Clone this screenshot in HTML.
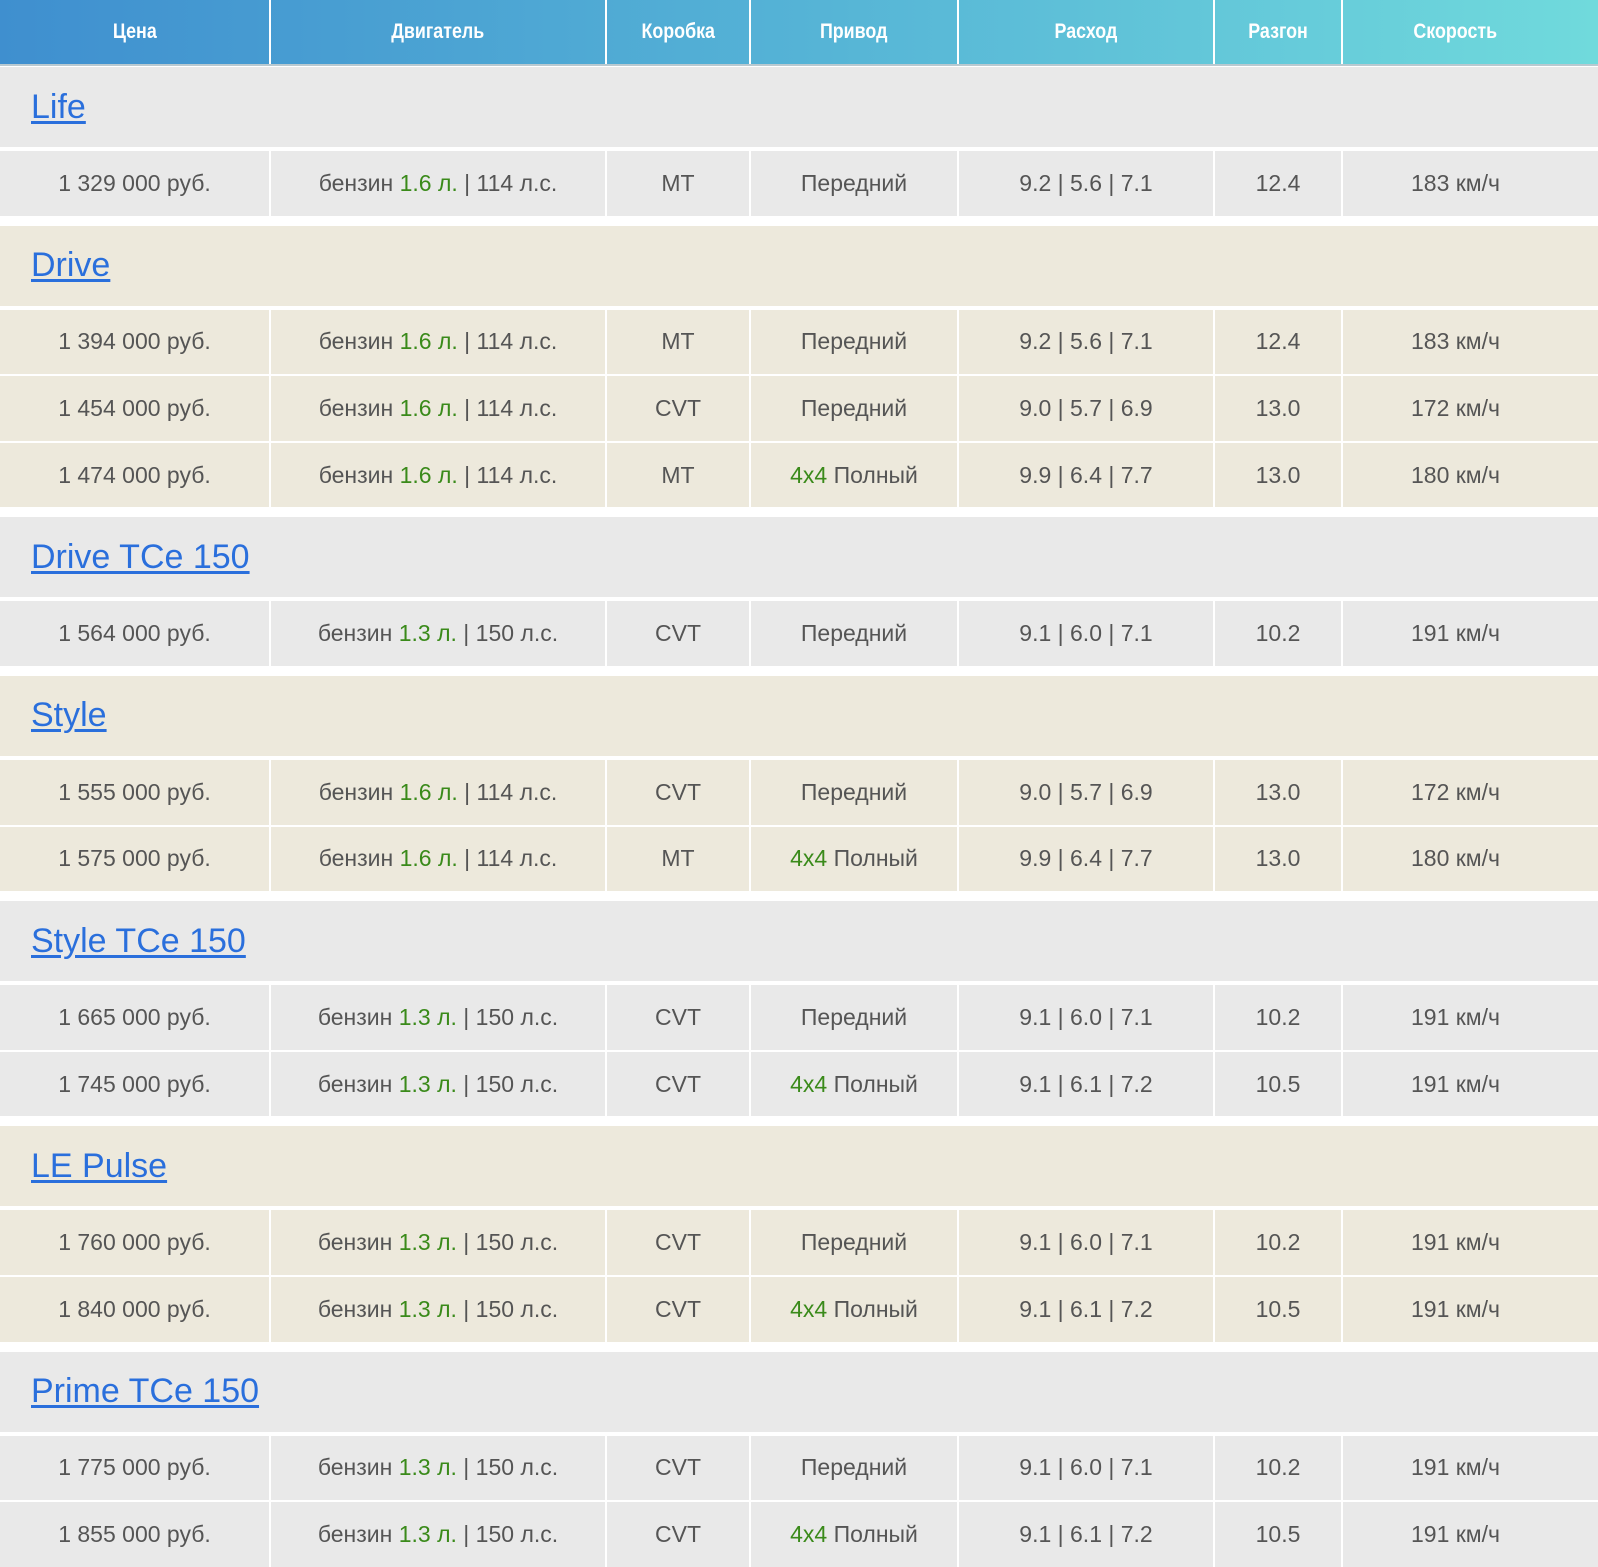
<!DOCTYPE html>
<html><head><meta charset="utf-8"><style>
*{margin:0;padding:0;box-sizing:border-box}
body{width:1598px;height:1566px;overflow:hidden;background:#fff;font-family:"Liberation Sans",sans-serif}
.hdr{display:flex;height:66px;background:linear-gradient(90deg,#3f8fcf,#55b3d6 50%,#70dadc);border-bottom:2px solid #b9c9d0}
.hdr div{color:#fff;font-family:"Liberation Sans Narrow","Liberation Sans",sans-serif;font-weight:bold;font-size:21px;display:flex;align-items:center;justify-content:center;border-right:2px solid #fff}
.hdr div span{display:inline-block;transform:scaleX(0.85)}
.hdr div:last-child{border-right:none}
.c1{width:271px}.c2{width:336px}.c3{width:144px}.c4{width:208px}.c5{width:256px}.c6{width:128px}.c7{width:255px;padding-right:30px}
.grp{margin-bottom:10px}
.gh{height:80px;display:flex;align-items:center;padding-left:31px;margin-bottom:4px}
.gh a{color:#2a6fdc;font-size:34px;text-decoration:underline;text-underline-offset:3px}
.row{display:flex;height:64.6px;margin-bottom:2px}
.row div{display:flex;align-items:center;justify-content:center;font-size:23px;color:#555;border-right:2px solid #fff;white-space:pre}
.row div:last-child{border-right:none}
.g{color:#3a8a1a}
.A .gh,.A .row{background:#e9e9e9}
.B .gh,.B .row{background:#ede9dc}
</style></head><body>
<div class="hdr"><div class="c1"><span>Цена</span></div><div class="c2"><span>Двигатель</span></div><div class="c3"><span>Коробка</span></div><div class="c4"><span>Привод</span></div><div class="c5"><span>Расход</span></div><div class="c6"><span>Разгон</span></div><div class="c7"><span>Скорость</span></div></div>
<div style="height:1px"></div>

<div class="grp A"><div class="gh"><a>Life</a></div>
<div class="row"><div class="c1">1 329 000 руб.</div><div class="c2">бензин <span class="g">1.6 л.</span> | 114 л.с.</div><div class="c3">MT</div><div class="c4">Передний</div><div class="c5">9.2 | 5.6 | 7.1</div><div class="c6">12.4</div><div class="c7">183 км/ч</div></div>
</div>

<div class="grp B"><div class="gh"><a>Drive</a></div>
<div class="row"><div class="c1">1 394 000 руб.</div><div class="c2">бензин <span class="g">1.6 л.</span> | 114 л.с.</div><div class="c3">MT</div><div class="c4">Передний</div><div class="c5">9.2 | 5.6 | 7.1</div><div class="c6">12.4</div><div class="c7">183 км/ч</div></div>
<div class="row"><div class="c1">1 454 000 руб.</div><div class="c2">бензин <span class="g">1.6 л.</span> | 114 л.с.</div><div class="c3">CVT</div><div class="c4">Передний</div><div class="c5">9.0 | 5.7 | 6.9</div><div class="c6">13.0</div><div class="c7">172 км/ч</div></div>
<div class="row"><div class="c1">1 474 000 руб.</div><div class="c2">бензин <span class="g">1.6 л.</span> | 114 л.с.</div><div class="c3">MT</div><div class="c4"><span class="g">4x4</span> Полный</div><div class="c5">9.9 | 6.4 | 7.7</div><div class="c6">13.0</div><div class="c7">180 км/ч</div></div>
</div>

<div class="grp A"><div class="gh"><a>Drive TCe 150</a></div>
<div class="row"><div class="c1">1 564 000 руб.</div><div class="c2">бензин <span class="g">1.3 л.</span> | 150 л.с.</div><div class="c3">CVT</div><div class="c4">Передний</div><div class="c5">9.1 | 6.0 | 7.1</div><div class="c6">10.2</div><div class="c7">191 км/ч</div></div>
</div>

<div class="grp B"><div class="gh"><a>Style</a></div>
<div class="row"><div class="c1">1 555 000 руб.</div><div class="c2">бензин <span class="g">1.6 л.</span> | 114 л.с.</div><div class="c3">CVT</div><div class="c4">Передний</div><div class="c5">9.0 | 5.7 | 6.9</div><div class="c6">13.0</div><div class="c7">172 км/ч</div></div>
<div class="row"><div class="c1">1 575 000 руб.</div><div class="c2">бензин <span class="g">1.6 л.</span> | 114 л.с.</div><div class="c3">MT</div><div class="c4"><span class="g">4x4</span> Полный</div><div class="c5">9.9 | 6.4 | 7.7</div><div class="c6">13.0</div><div class="c7">180 км/ч</div></div>
</div>

<div class="grp A"><div class="gh"><a>Style TCe 150</a></div>
<div class="row"><div class="c1">1 665 000 руб.</div><div class="c2">бензин <span class="g">1.3 л.</span> | 150 л.с.</div><div class="c3">CVT</div><div class="c4">Передний</div><div class="c5">9.1 | 6.0 | 7.1</div><div class="c6">10.2</div><div class="c7">191 км/ч</div></div>
<div class="row"><div class="c1">1 745 000 руб.</div><div class="c2">бензин <span class="g">1.3 л.</span> | 150 л.с.</div><div class="c3">CVT</div><div class="c4"><span class="g">4x4</span> Полный</div><div class="c5">9.1 | 6.1 | 7.2</div><div class="c6">10.5</div><div class="c7">191 км/ч</div></div>
</div>

<div class="grp B"><div class="gh"><a>LE Pulse</a></div>
<div class="row"><div class="c1">1 760 000 руб.</div><div class="c2">бензин <span class="g">1.3 л.</span> | 150 л.с.</div><div class="c3">CVT</div><div class="c4">Передний</div><div class="c5">9.1 | 6.0 | 7.1</div><div class="c6">10.2</div><div class="c7">191 км/ч</div></div>
<div class="row"><div class="c1">1 840 000 руб.</div><div class="c2">бензин <span class="g">1.3 л.</span> | 150 л.с.</div><div class="c3">CVT</div><div class="c4"><span class="g">4x4</span> Полный</div><div class="c5">9.1 | 6.1 | 7.2</div><div class="c6">10.5</div><div class="c7">191 км/ч</div></div>
</div>

<div class="grp A"><div class="gh"><a>Prime TCe 150</a></div>
<div class="row"><div class="c1">1 775 000 руб.</div><div class="c2">бензин <span class="g">1.3 л.</span> | 150 л.с.</div><div class="c3">CVT</div><div class="c4">Передний</div><div class="c5">9.1 | 6.0 | 7.1</div><div class="c6">10.2</div><div class="c7">191 км/ч</div></div>
<div class="row"><div class="c1">1 855 000 руб.</div><div class="c2">бензин <span class="g">1.3 л.</span> | 150 л.с.</div><div class="c3">CVT</div><div class="c4"><span class="g">4x4</span> Полный</div><div class="c5">9.1 | 6.1 | 7.2</div><div class="c6">10.5</div><div class="c7">191 км/ч</div></div>
</div>
</body></html>
